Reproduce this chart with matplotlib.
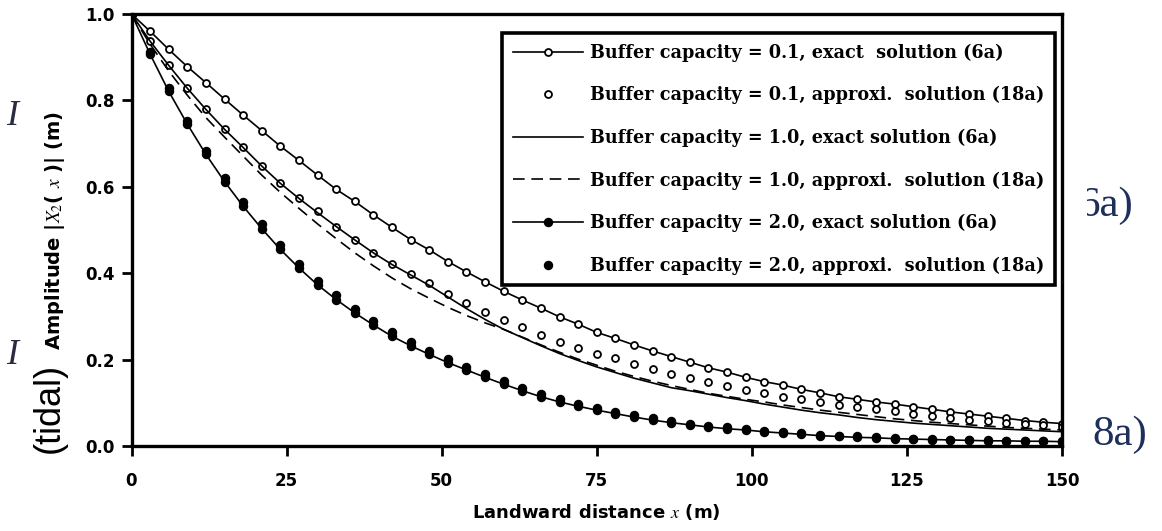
import numpy as np
import matplotlib
matplotlib.use('Agg')
import matplotlib.pyplot as plt
from matplotlib.transforms import Bbox, TransformedBbox

plt.rcParams['font.family'] = ['DejaVu Sans']
plt.rcParams['mathtext.fontset'] = 'stix'

# distance along the aquifer (m), one marker every 3 m
x_pos = np.arange(0, 151, 3)

# buffer capacity 0.1
amp_01_exact = [1.000, 0.960, 0.918, 0.878, 0.841, 0.803, 0.766, 0.730, 0.694, 0.661,
                0.627, 0.594, 0.566, 0.535, 0.506, 0.478, 0.454, 0.427, 0.403, 0.380,
                0.358, 0.338, 0.319, 0.299, 0.282, 0.263, 0.249, 0.234, 0.220, 0.207,
                0.194, 0.181, 0.171, 0.159, 0.149, 0.141, 0.131, 0.123, 0.114, 0.108,
                0.102, 0.097, 0.091, 0.085, 0.079, 0.074, 0.069, 0.064, 0.059, 0.055,
                0.052]
amp_01_approx = [1.000, 0.937, 0.881, 0.828, 0.779, 0.733, 0.691, 0.648, 0.608, 0.573,
                 0.543, 0.508, 0.477, 0.447, 0.421, 0.398, 0.377, 0.352, 0.330, 0.311,
                 0.292, 0.275, 0.257, 0.241, 0.228, 0.213, 0.203, 0.190, 0.178, 0.167,
                 0.158, 0.149, 0.139, 0.130, 0.122, 0.114, 0.108, 0.101, 0.095, 0.090,
                 0.085, 0.080, 0.075, 0.070, 0.065, 0.061, 0.057, 0.054, 0.051, 0.048,
                 0.045]

# buffer capacity 1.0
amp_10_exact = [1.000, 0.937, 0.881, 0.828, 0.779, 0.733, 0.691, 0.648, 0.608, 0.573,
                0.540, 0.508, 0.477, 0.447, 0.420, 0.396, 0.372, 0.345, 0.318, 0.293,
                0.270, 0.251, 0.232, 0.214, 0.198, 0.183, 0.170, 0.157, 0.146, 0.135,
                0.128, 0.120, 0.112, 0.105, 0.097, 0.090, 0.083, 0.077, 0.072, 0.066,
                0.061, 0.057, 0.053, 0.050, 0.047, 0.044, 0.041, 0.039, 0.037, 0.035,
                0.033]
amp_10_approx = [1.000, 0.930, 0.868, 0.812, 0.760, 0.715, 0.671, 0.627, 0.587, 0.550,
                 0.514, 0.480, 0.447, 0.417, 0.389, 0.364, 0.342, 0.321, 0.302, 0.285,
                 0.270, 0.252, 0.234, 0.217, 0.201, 0.187, 0.173, 0.161, 0.150, 0.140,
                 0.131, 0.122, 0.115, 0.108, 0.102, 0.095, 0.089, 0.083, 0.078, 0.073,
                 0.068, 0.063, 0.059, 0.055, 0.052, 0.049, 0.046, 0.043, 0.041, 0.039,
                 0.037]

# buffer capacity 2.0
amp_20_exact = [1.000, 0.907, 0.821, 0.745, 0.675, 0.612, 0.555, 0.503, 0.455, 0.412,
                0.373, 0.339, 0.308, 0.280, 0.254, 0.232, 0.212, 0.193, 0.176, 0.159,
                0.143, 0.128, 0.114, 0.102, 0.092, 0.083, 0.075, 0.067, 0.060, 0.054,
                0.049, 0.044, 0.040, 0.037, 0.033, 0.030, 0.027, 0.024, 0.022, 0.020,
                0.019, 0.017, 0.016, 0.015, 0.014, 0.013, 0.012, 0.012, 0.011, 0.011,
                0.010]
amp_20_approx = [1.000, 0.912, 0.828, 0.752, 0.684, 0.621, 0.565, 0.513, 0.465, 0.422,
                 0.383, 0.350, 0.318, 0.290, 0.263, 0.241, 0.221, 0.201, 0.184, 0.166,
                 0.150, 0.135, 0.120, 0.108, 0.097, 0.088, 0.079, 0.071, 0.064, 0.058,
                 0.052, 0.047, 0.043, 0.039, 0.035, 0.032, 0.029, 0.026, 0.024, 0.022,
                 0.020, 0.018, 0.017, 0.016, 0.015, 0.014, 0.013, 0.012, 0.012, 0.011,
                 0.011]

x_ticks = [0, 25, 50, 75, 100, 125, 150]
y_ticks = [0.0, 0.2, 0.4, 0.6, 0.8, 1.0]

W, H = 1162, 531
fig = plt.figure(figsize=(W / 100, H / 100), dpi=100)
ax = fig.add_axes([131.5 / W, 1 - 446 / H, (1062 - 131.5) / W, (446 - 14) / H])

lw = 1.2
ax.plot(x_pos, amp_01_exact, '-', color='black', lw=lw, marker='o', ms=5,
        mfc='white', mec='black', mew=1.3,
        label='Buffer capacity = 0.1, exact  solution (6a)')
ax.plot(x_pos, amp_01_approx, 'o', color='black', ms=5, mfc='white', mec='black', mew=1.3,
        label='Buffer capacity = 0.1, approxi.  solution (18a)')
ax.plot(x_pos, amp_10_exact, '-', color='black', lw=lw,
        label='Buffer capacity = 1.0, exact solution (6a)')
ax.plot(x_pos, amp_10_approx, '--', color='black', lw=lw, dashes=(7, 4),
        label='Buffer capacity = 1.0, approxi.  solution (18a)')
ax.plot(x_pos, amp_20_exact, '-', color='black', lw=lw, marker='o', ms=5.8,
        mfc='black', mec='black',
        label='Buffer capacity = 2.0, exact solution (6a)')
ax.plot(x_pos, amp_20_approx, 'o', color='black', ms=5.8,
        label='Buffer capacity = 2.0, approxi.  solution (18a)')

ax.set_xlim(0, 150)
ax.set_ylim(0, 1.0)
ax.set_xticks(x_ticks)
ax.set_yticks(y_ticks)
ax.set_yticklabels(['{:.1f}'.format(v) for v in y_ticks])
for s in ax.spines.values():
    s.set_linewidth(2.4)
ax.tick_params(direction='out', length=7, width=2, labelsize=12)
ax.tick_params(axis='x', pad=12)
ax.tick_params(axis='y', pad=5)
for lab in ax.get_xticklabels() + ax.get_yticklabels():
    lab.set_fontweight('bold')

ax.set_xlabel(r'Landward distance $x$ (m)', fontsize=13, fontweight='bold', labelpad=8)
ax.set_ylabel(r'Amplitude |$X_2$( $x$ )| (m)', fontsize=14, fontweight='bold')
ax.yaxis.set_label_coords(-0.069, 0.5)

leg = ax.legend(loc='upper left', bbox_to_anchor=(502 / W, 1 - 33 / H),
                bbox_transform=fig.transFigure, borderaxespad=0, frameon=True,
                fancybox=False, numpoints=1, handlelength=4.0, handletextpad=0.4,
                labelspacing=1.38, borderpad=0.6, framealpha=1,
                prop={'family': 'DejaVu Serif', 'weight': 'bold', 'size': 12.7})
leg.get_frame().set_edgecolor('black')
leg.get_frame().set_linewidth(2.6)

# stray fragments from the surrounding page
fig.text(49 / W, 1 - 408 / H, '(tidal)', rotation=90, fontsize=26,
         ha='center', va='center', family='Liberation Sans')
navy = '#1f2f5c'
t1 = fig.text(1105 / W, 1 - 206 / H, '6a)', fontsize=31, color=navy,
              family='Liberation Serif', ha='center', va='center')
t1.set_clip_box(TransformedBbox(Bbox([[1087 / W, 0], [1, 1]]), fig.transFigure))
fig.text(1120 / W, 1 - 435 / H, '8a)', fontsize=31, color=navy,
         family='Liberation Serif', ha='center', va='center')
for yy in [116, 355]:
    t = fig.text(6 / W, 1 - yy / H, 'I', fontsize=26, color='#2a2a40',
                 family='Liberation Serif', style='italic', ha='left', va='center')
    t.set_clip_box(TransformedBbox(Bbox([[0, 0], [21 / W, 1]]), fig.transFigure))

fig.savefig('out.png', dpi=100)
